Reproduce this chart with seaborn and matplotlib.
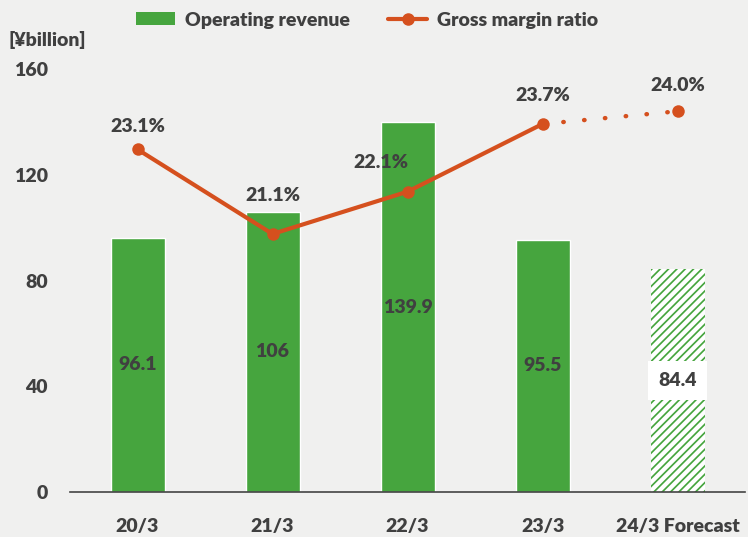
import matplotlib
matplotlib.use("Agg")
import matplotlib.pyplot as plt
import seaborn as sns
import pandas as pd
from matplotlib.patches import Patch
from matplotlib.lines import Line2D

# chart data
categories = ['20/3', '21/3', '22/3', '23/3', '24/3 Forecast']
revenue = [96.1, 106, 139.9, 95.5, 84.4]
margin = [23.1, 21.1, 22.1, 23.7, 24.0]
margin_labels = ['23.1%', '21.1%', '22.1%', '23.7%', '24.0%']
# label offsets in pixels (dx, dy) from each point
label_offsets = [(0, 23), (0, 38), (-27, 29), (0, 28), (0, 26)]

GREEN = '#46a53e'
ORANGE = '#d5501e'
TEXT = '#404040'
BG = '#f0f0ef'
WEIGHT = 'heavy'

sns.set_style('white')
plt.rcParams['font.family'] = ['Lato', 'DejaVu Sans']
plt.rcParams['font.weight'] = WEIGHT
plt.rcParams['hatch.linewidth'] = 3.0

df = pd.DataFrame({'period': categories, 'revenue': revenue})

fig = plt.figure(figsize=(7.48, 5.37), dpi=100, facecolor=BG)
ax = fig.add_axes([70 / 748, 45 / 537, 675 / 748, 423 / 537])
ax.set_facecolor(BG)

sns.barplot(data=df, x='period', y='revenue', color=GREEN, saturation=1,
            width=0.4, ax=ax)
bars = ax.patches
last = bars[-1]
last.set_hatch('////')
last.set_edgecolor('white')
last.set_linewidth(0)

for i, (b, v) in enumerate(zip(bars, revenue)):
    txt = f'{v:g}'
    kw = {}
    if i == len(bars) - 1:
        kw['bbox'] = dict(boxstyle='square,pad=0.55', facecolor='white', edgecolor='none')
    ax.text(b.get_x() + b.get_width() / 2, v / 2, txt, ha='center', va='center',
            fontsize=14, fontweight=WEIGHT, color=TEXT, **kw)

ax.set_ylim(0, 160)
ax.set_xlim(-0.5, len(categories) - 0.5)
ax.set_yticks([0, 40, 80, 120, 160])
ax.tick_params(axis='y', length=0, pad=16, labelsize=14, labelcolor=TEXT)
ax.tick_params(axis='x', which='major', length=0, pad=19, labelsize=14, labelcolor=TEXT)
ax.set_xticks([i - 0.5 for i in range(len(categories) + 1)], minor=True)
ax.tick_params(axis='x', which='minor', direction='in', length=7, width=1.2, color='#444444')
ax.set_xlabel('')
ax.set_ylabel('')
for s in ['top', 'right', 'left']:
    ax.spines[s].set_visible(False)
ax.spines['bottom'].set_color('#444444')
ax.spines['bottom'].set_linewidth(1.2)
for lab in ax.get_xticklabels() + ax.get_yticklabels():
    lab.set_fontweight(WEIGHT)

# gross margin line on hidden secondary axis
ax2 = ax.twinx()
ax2.set_ylim(15, 25)
ax2.axis('off')
xs = list(range(len(categories)))
sns.lineplot(x=xs[:4], y=margin[:4], color=ORANGE, linewidth=3, marker='o',
             markersize=9, markeredgewidth=0, ax=ax2)
ax2.plot(xs[3:], margin[3:], color=ORANGE, linewidth=3.2, linestyle=(0, (0.1, 4.6)),
         dash_capstyle='round')
ax2.plot(xs[4:], margin[4:], 'o', color=ORANGE, markersize=9, markeredgewidth=0)
for x, y, t, (dx, dy) in zip(xs, margin, margin_labels, label_offsets):
    ax2.annotate(t, (x, y), xytext=(dx, dy), textcoords='offset pixels',
                 ha='center', va='center', fontsize=14, fontweight=WEIGHT, color=TEXT)

fig.text(8 / 748, 1 - 40 / 537, '[¥billion]', ha='left', va='center',
         fontsize=14, fontweight=WEIGHT, color=TEXT)

handles = [Patch(facecolor=GREEN, edgecolor='none'),
           Line2D([0], [0], color=ORANGE, linewidth=3, marker='o', markersize=8)]
fig.legend(handles, ['Operating revenue', 'Gross margin ratio'], loc='center',
           bbox_to_anchor=(367 / 748, 1 - 20 / 537), ncol=2, frameon=False,
           handlelength=2.0, handleheight=0.6, columnspacing=2.0,
           handletextpad=0.5, labelcolor=TEXT, prop={'weight': WEIGHT, 'size': 14})

fig.savefig('out.png', dpi=100, facecolor=BG)
